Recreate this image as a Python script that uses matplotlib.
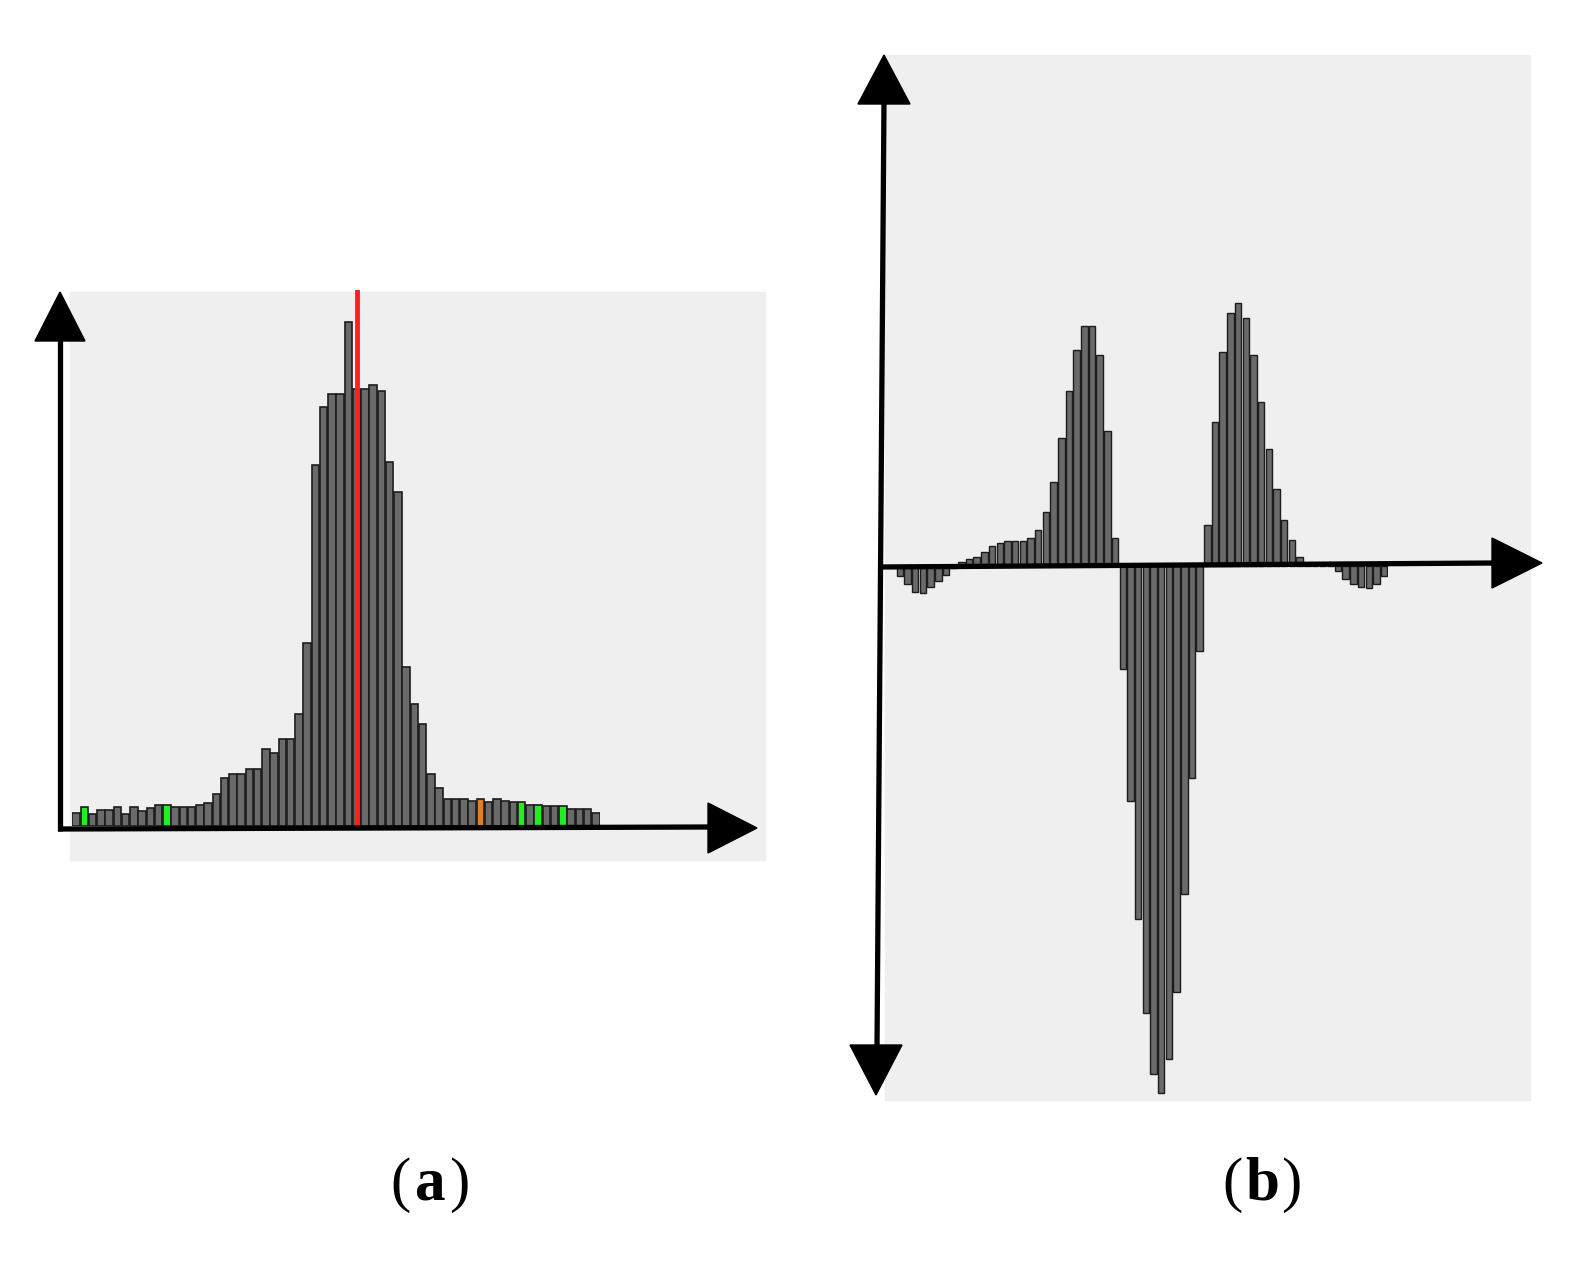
import matplotlib
matplotlib.use("Agg")
import matplotlib.pyplot as plt
from matplotlib.patches import Rectangle, Polygon

# Panel (a) histogram heights (relative units)
a_tops = [1518,1503,1520,1510,1510,1502,1520,1502,1512,1505,1495,1495,1503,1503,1503,1495,
          1490,1465,1420,1410,1410,1395,1395,1340,1350,1312,1312,1240,1042,545,382,345,345,145,
          330,330,320,337,537,620,1110,1212,1270,1410,1448,1478,1478,1478,1485,1478,1488,1478,
          1485,1488,1488,1495,1495,1500,1500,1500,1508,1508,1508,1518]
a_vals = [1555 - t for t in a_tops]
a_green = [1, 11, 54, 56, 59]
a_orange = [49]
a_red_index = 34

# Panel (b) signed values (relative units)
b_tops = [565,580,595,598,585,575,562,548,538,532,527,517,507,500,497,497,497,490,475,440,383,
          297,207,127,80,80,137,283,490,745,1000,1228,1410,1528,1565,1500,1370,1180,955,710,
          465,267,130,55,35,65,137,227,318,395,455,495,528,540,545,545,545,555,570,580,585,588,580,565]
b_vals = [545 - t for t in b_tops]

W, H = 1586, 1262
fig = plt.figure(figsize=(W/100, H/100), dpi=100)
fig.patch.set_facecolor("white")

ov = fig.add_axes([0, 0, 1, 1])
ov.set_xlim(0, W); ov.set_ylim(H, 0); ov.axis("off")
bg = "#efefef"
ov.add_patch(Rectangle((70, 292), 695, 568, color=bg, zorder=0))
ov.add_patch(Rectangle((885, 55), 645, 1045, color=bg, zorder=0))

def pax(l, t, r, b):
    return fig.add_axes([l/W, 1 - b/H, (r-l)/W, (b-t)/H])

# panel a bars
axa = pax(72, 290, 600, 826)
axa.patch.set_alpha(0); axa.axis("off")
n = len(a_vals)
cols = ["#6a6a6a"] * n
for i in a_green: cols[i] = "#22ee22"
for i in a_orange: cols[i] = "#d9822b"
axa.bar(range(n), a_vals, width=0.88, color=cols, edgecolor="#1c1c1c", linewidth=1.2)
axa.axvline(a_red_index, color="#ff2020", lw=3.5)
axa.set_xlim(-0.5, n - 0.5); axa.set_ylim(0, 536 * 2.8)

# panel b bars
axb = pax(896, 290, 1388, 1095)
axb.patch.set_alpha(0); axb.axis("off")
m = len(b_vals)
axb.bar(range(m), b_vals, width=0.85, color="#6a6a6a", edgecolor="#1c1c1c", linewidth=1.0)
axb.set_xlim(-0.5, m - 0.5); axb.set_ylim(-(1095 - 566) * 1.936, (566 - 290) * 1.936)

# arrows (overlay, on top)
ov2 = fig.add_axes([0, 0, 1, 1])
ov2.set_xlim(0, W); ov2.set_ylim(H, 0); ov2.axis("off"); ov2.patch.set_alpha(0)
lw = 3.8
ov2.plot([60, 60], [831, 335], color="k", lw=lw, solid_capstyle="butt")
ov2.add_patch(Polygon([(60, 292), (35, 341), (85, 341)], color="k"))
ov2.plot([58, 712], [829, 827], color="k", lw=lw, solid_capstyle="butt")
ov2.add_patch(Polygon([(757, 828), (708, 803), (708, 853)], color="k"))

ov2.plot([884, 877], [100, 1048], color="k", lw=lw, solid_capstyle="butt")
ov2.add_patch(Polygon([(884, 55), (858, 104), (910, 104)], color="k"))
ov2.add_patch(Polygon([(876, 1095), (850, 1045), (902, 1045)], color="k"))
ov2.plot([878, 1495], [567, 563], color="k", lw=lw, solid_capstyle="butt")
ov2.add_patch(Polygon([(1542, 563), (1492, 538), (1492, 588)], color="k"))

fam = ["Liberation Serif", "DejaVu Serif"]
for cx, letter in [(430, "a"), (1262, "b")]:
    ov2.text(cx - 19, 1185, "(", fontsize=44, family=fam, ha="right", va="center")
    ov2.text(cx, 1185, letter, fontsize=44, family=fam, fontweight="bold", ha="center", va="center")
    ov2.text(cx + 19, 1185, ")", fontsize=44, family=fam, ha="left", va="center")

fig.savefig("out.png", dpi=100)
